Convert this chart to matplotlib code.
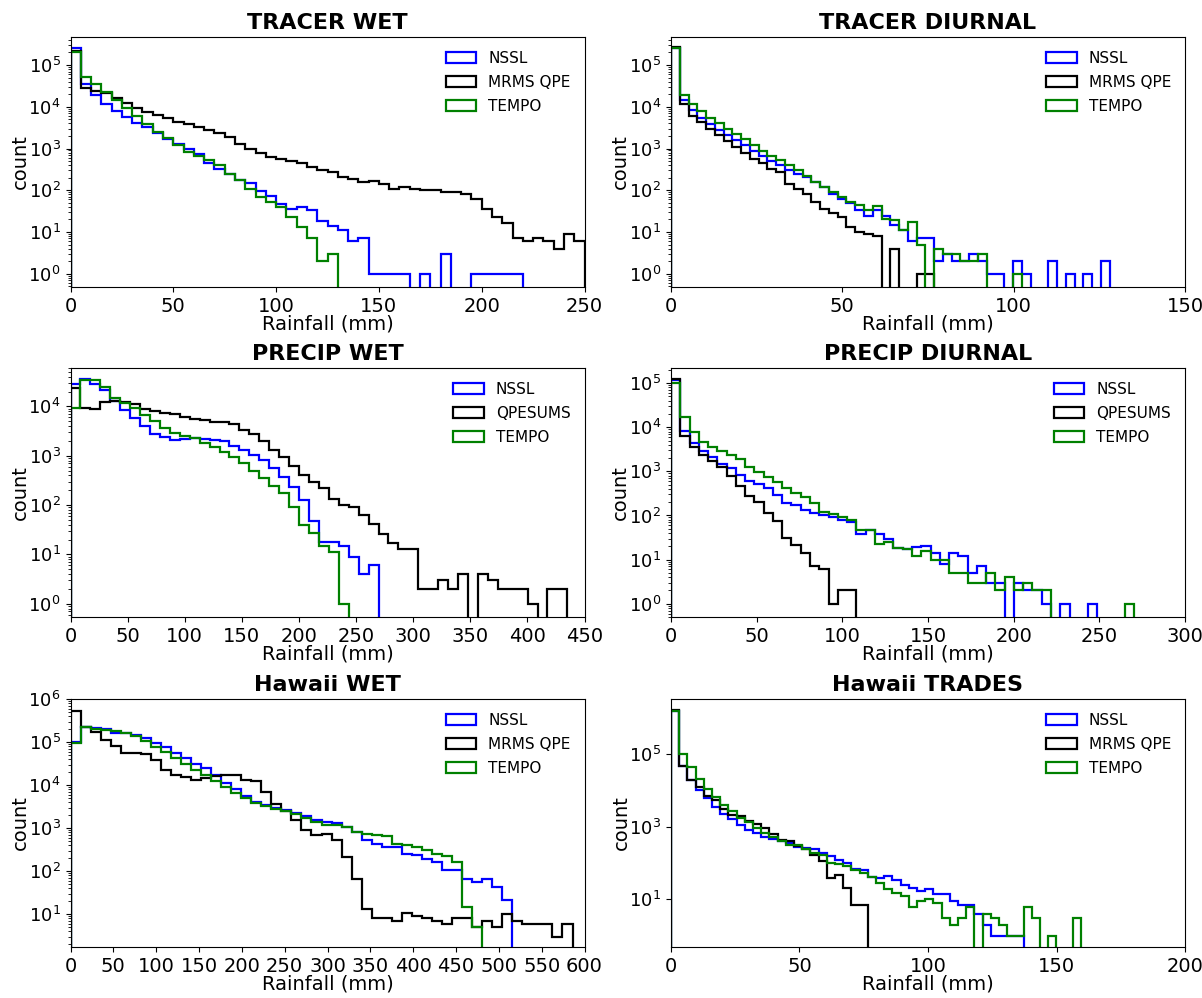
import numpy as np
import matplotlib
matplotlib.use("Agg")
import matplotlib.pyplot as plt
from matplotlib.ticker import LogLocator

# ---------------- data ----------------
# each histogram: 50 equal bins from 0 to the data maximum of that case
titles = ["TRACER WET", "TRACER DIURNAL", "PRECIP WET", "PRECIP DIURNAL", "Hawaii WET", "Hawaii TRADES"]
obs_names = ["MRMS QPE", "MRMS QPE", "QPESUMS", "QPESUMS", "MRMS QPE", "MRMS QPE"]
data_max = [250.0, 128.0, 435.0, 270.5, 586.0, 159.5]
n_bins = 50

# TRACER WET
tw_nssl = [250000, 35000, 19000, 11500, 8000, 5800, 4100, 3200, 2300, 1650,
           1260, 950, 730, 450, 330, 240, 180, 150, 96, 73,
           48, 35, 40, 33, 18, 14, 11, 6, 7, 1,
           1, 1, 1, 0, 1, 0, 3, 0, 0, 1,
           1, 1, 1, 1, 0, 0, 0, 0, 0, 0]
tw_obs = [220000, 27500, 24000, 21000, 16000, 12500, 9600, 7600, 6300, 5300,
          4400, 3800, 3200, 2750, 2400, 1840, 1260, 950, 790, 630,
          550, 500, 440, 360, 300, 275, 209, 190, 158, 167,
          139, 110, 120, 110, 100, 100, 91, 91, 83, 63,
          36, 23, 16, 7, 6, 7, 6, 4, 9, 6]
tw_tempo = [200000, 52000, 35000, 23000, 14500, 9100, 6000, 3800, 2500, 1740,
            1200, 830, 650, 525, 400, 250, 174, 110, 69, 52,
            40, 23, 13, 7, 2, 3, 0, 0, 0, 0,
            0, 0, 0, 0, 0, 0, 0, 0, 0, 0,
            0, 0, 0, 0, 0, 0, 0, 0, 0, 0]

# TRACER DIURNAL
td_nssl = [250000, 14500, 8300, 5500, 3800, 2750, 2100, 1600, 1200, 870,
           650, 500, 400, 300, 250, 209, 158, 120, 83, 63,
           50, 33, 24, 33, 24, 15, 11, 6, 7, 7,
           2, 3, 2, 2, 3, 2, 1, 1, 0, 2,
           1, 0, 0, 2, 0, 1, 0, 1, 0, 2]
td_obs = [265000, 11500, 6000, 4400, 3000, 2100, 1500, 1100, 790, 575,
          455, 330, 275, 139, 110, 83, 52, 35, 29, 23,
          13, 10, 9, 8, 0, 4, 0, 0, 1, 1,
          0, 0, 0, 0, 0, 0, 0, 0, 0, 0,
          0, 0, 0, 0, 0, 0, 0, 0, 0, 0]
td_tempo = [250000, 19000, 11500, 8000, 5500, 4100, 2900, 2200, 1650, 1200,
            870, 650, 525, 400, 300, 218, 158, 120, 91, 69,
            52, 44, 33, 42, 21, 19, 11, 17, 5, 0,
            4, 3, 3, 2, 2, 3, 0, 0, 0, 1,
            0, 0, 0, 0, 0, 0, 0, 0, 0, 0]

# PRECIP WET
pw_nssl = [29000, 36000, 29000, 21000, 12600, 8500, 5800, 4000, 2750, 2350,
           2100, 2150, 2300, 2200, 2100, 1950, 1600, 1300, 1040, 830,
           560, 365, 230, 126, 48, 18, 18, 15, 9, 4,
           6, 0, 0, 0, 0, 0, 0, 0, 0, 0,
           0, 0, 0, 0, 0, 0, 0, 0, 0, 0]
pw_obs = [23500, 9300, 8700, 12000, 12600, 12300, 11000, 9000, 7900, 7300,
          7100, 6000, 5600, 5400, 4900, 4900, 4500, 3400, 2750, 1950,
          1300, 930, 620, 410, 300, 225, 130, 100, 93, 63,
          42, 26, 17, 13, 13, 2, 2, 3, 2, 4,
          0, 4, 3, 2, 2, 2, 1, 0, 2, 2]
pw_tempo = [9300, 34000, 35000, 25000, 15000, 11700, 9300, 6800, 5100, 3600,
            2950, 2500, 2300, 1850, 1480, 1200, 930, 700, 500, 350,
            245, 173, 93, 39, 27, 15, 11, 1, 0, 0,
            0, 0, 0, 0, 0, 0, 0, 0, 0, 0,
            0, 0, 0, 0, 0, 0, 0, 0, 0, 0]

# PRECIP DIURNAL
pd_nssl = [115000, 8400, 4500, 2950, 2100, 1470, 1180, 830, 615, 505,
           410, 290, 195, 172, 132, 111, 101, 93, 78, 72,
           39, 46, 38, 30, 18, 17, 19, 20, 14, 8,
           14, 12, 5, 7, 3, 3, 0, 3, 2, 2,
           1, 0, 1, 0, 0, 1, 0, 0, 0, 0]
pd_obs = [125000, 6300, 3500, 2350, 1740, 1230, 780, 465, 275, 204,
          115, 76, 31, 21, 14, 7, 6, 1, 2, 2,
          0, 0, 0, 0, 0, 0, 0, 0, 0, 0,
          0, 0, 0, 0, 0, 0, 0, 0, 0, 0,
          0, 0, 0, 0, 0, 0, 0, 0, 0, 0]
pd_tempo = [100000, 17000, 8000, 4700, 3500, 2950, 2350, 1870, 1270, 980,
            760, 585, 410, 315, 265, 187, 121, 107, 93, 81,
            48, 46, 23, 25, 18, 17, 12, 16, 10, 10,
            5, 5, 3, 3, 5, 2, 4, 2, 3, 2,
            2, 0, 0, 0, 0, 0, 0, 0, 0, 1]

# Hawaii WET
hw_nssl = [100000, 220000, 210000, 200000, 160000, 165000, 145000, 122000, 96000, 75000,
           57000, 42000, 31000, 24500, 17000, 11500, 8000, 5500, 4000, 3400,
           3000, 2700, 2200, 1900, 1540, 1400, 1330, 1040, 820, 520,
           425, 370, 360, 258, 235, 195, 165, 105, 105, 67,
           56, 67, 43, 21, 0, 0, 0, 0, 0, 0]
hw_obs = [540000, 220000, 174000, 112000, 81000, 57000, 57000, 53000, 38000, 23000,
          17000, 15500, 13500, 14300, 16300, 17000, 17000, 13500, 12600, 7000,
          3700, 2500, 1540, 900, 690, 725, 525, 215, 67, 13,
          8, 8, 7, 11, 9, 8, 7, 6, 8, 8,
          5, 7, 5, 10, 7, 6, 6, 6, 3, 6]
hw_tempo = [93000, 220000, 200000, 190000, 185000, 165000, 135000, 105000, 78000, 58000,
            42000, 31000, 23000, 17500, 12600, 9000, 6500, 5000, 3900, 3200,
            2800, 2500, 2100, 1700, 1400, 1180, 1200, 1070, 820, 725,
            700, 650, 440, 400, 370, 310, 258, 225, 165, 15,
            5, 0, 0, 0, 0, 0, 0, 0, 0, 0]

# Hawaii TRADES
ht_nssl = [1500000, 47000, 18500, 10000, 6000, 3500, 2240, 1600, 1120, 810,
           680, 525, 445, 390, 350, 282, 250, 240, 192, 155,
           120, 98, 67, 64, 40, 38, 44, 33, 25, 20,
           17, 19, 14, 14, 9, 7, 7, 4, 2, 1,
           1, 1, 1, 0, 0, 0, 0, 0, 0, 0]
ht_obs = [1550000, 47000, 19000, 12500, 7000, 5400, 3000, 2100, 1950, 1380,
          1180, 900, 630, 430, 390, 295, 240, 166, 110, 38,
          47, 20, 7, 7, 0, 0, 0, 0, 0, 0,
          0, 0, 0, 0, 0, 0, 0, 0, 0, 0,
          0, 0, 0, 0, 0, 0, 0, 0, 0, 0]
ht_tempo = [1500000, 100000, 43000, 20000, 10700, 6500, 4000, 2750, 1700, 1300,
            900, 660, 525, 390, 315, 315, 240, 186, 166, 98,
            94, 83, 64, 52, 42, 29, 19, 15, 12, 6,
            9, 10, 8, 3, 2, 3, 6, 0, 4, 3,
            2, 1, 1, 6, 3, 0, 1, 0, 0, 3]

nssl_sets = [tw_nssl, td_nssl, pw_nssl, pd_nssl, hw_nssl, ht_nssl]
obs_sets = [tw_obs, td_obs, pw_obs, pd_obs, hw_obs, ht_obs]
tempo_sets = [tw_tempo, td_tempo, pw_tempo, pd_tempo, hw_tempo, ht_tempo]

x_max = [250, 150, 450, 300, 600, 200]
x_step = [50, 50, 50, 50, 50, 50]
y_lim = [(0.48, 4.7e5), (0.48, 4.7e5), (0.54, 6.0e4), (0.50, 2.2e5), (1.74, 1.0e6), (0.49, 3.2e6)]

# ---------------- figure ----------------
fig = plt.figure(figsize=(12.02, 9.98), dpi=100)
W, H = 1202.0, 998.0
col_x = [70.5, 671.0]
col_w = 514.0
row_y = [(37.0, 287.0), (368.0, 617.0), (699.0, 947.0)]

for k in range(6):
    r, c = divmod(k, 2)
    top, bot = row_y[r]
    ax = fig.add_axes([col_x[c] / W, 1 - bot / H, col_w / W, (bot - top) / H])
    ax.set_yscale("log")
    edges = np.linspace(0, data_max[k], n_bins + 1)
    centers = 0.5 * (edges[:-1] + edges[1:])
    ax.hist(centers, bins=edges, weights=nssl_sets[k], histtype="step",
            color="blue", linewidth=1.6, label="NSSL")
    ax.hist(centers, bins=edges, weights=obs_sets[k], histtype="step",
            color="black", linewidth=1.6, label=obs_names[k])
    ax.hist(centers, bins=edges, weights=tempo_sets[k], histtype="step",
            color="green", linewidth=1.6, label="TEMPO")
    ax.set_xlim(0, x_max[k])
    ax.set_xticks(np.arange(0, x_max[k] + 1, x_step[k]))
    ax.set_ylim(*y_lim[k])
    if k == 5:
        ax.yaxis.set_major_locator(LogLocator(base=10, subs=(1.0,), numticks=20))
        ax.set_yticks([1e1, 1e3, 1e5])
    ax.tick_params(axis="x", labelsize=14)
    ax.tick_params(axis="y", labelsize=13)
    ax.set_xlabel("Rainfall (mm)", fontsize=14, labelpad=-1)
    ax.set_ylabel("count", fontsize=14, labelpad=-1)
    ax.set_title(titles[k], fontsize=16, fontweight="bold", pad=6)
    ax.legend(loc="upper right", fontsize=11, frameon=False, labelspacing=0.6)

fig.savefig("out.png", dpi=100)
